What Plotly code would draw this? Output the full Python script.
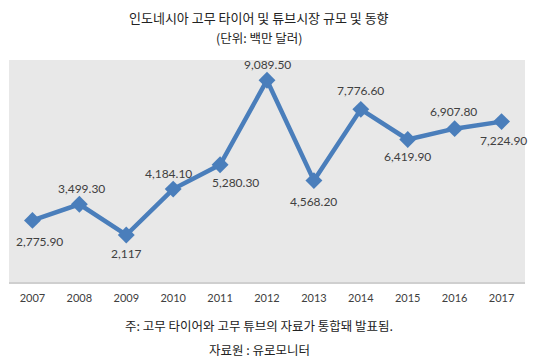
import plotly.graph_objects as go

years = ["2007", "2008", "2009", "2010", "2011", "2012", "2013", "2014", "2015", "2016", "2017"]
values = [2775.9, 3499.3, 2117, 4184.1, 5280.3, 9089.5, 4568.2, 7776.6, 6419.9, 6907.8, 7224.9]
labels = ["2,775.90", "3,499.30", "2,117", "4,184.10", "5,280.30", "9,089.50",
          "4,568.20", "7,776.60", "6,419.90", "6,907.80", "7,224.90"]

# label offsets in pixels (style only)
label_dx = [7, 2, 0, -5, 15, 0, 0, 0, 0, -1, 2]
label_dy = [-21, 16, -18, 16, -18, 16, -21, 19, -17, 17, -19]

title = "인도네시아 고무 타이어 및 튜브시장 규모 및 동향"
subtitle = "(단위: 백만 달러)"
note = "주: 고무 타이어와 고무 튜브의 자료가 통합돼 발표됨."
source = "자료원 : 유로모니터"

kfont = "Noto Sans CJK KR"
lfont = "Lato, Open Sans, sans-serif"
blue = "#4A7EBB"

# page body has an 8px margin: build the figure 8px smaller and offset
W, H = 530, 356
ml, mr, mt, mb = 1, 13, 52, 82
pw, ph = W - ml - mr, H - mt - mb


def px_to_paper(x_page, y_page):
    x = (x_page - 8 - ml) / pw
    y = (H - mb - (y_page - 8)) / ph
    return x, y


fig = go.Figure()
fig.add_trace(go.Scatter(
    x=years, y=values, mode="lines+markers",
    line=dict(color=blue, width=4.5),
    marker=dict(symbol="diamond", size=13, color=blue),
    cliponaxis=False, hoverinfo="skip",
))

annotations = []
for i, (v, t, dx, dy) in enumerate(zip(values, labels, label_dx, label_dy)):
    annotations.append(dict(
        x=i, y=v, xref="x", yref="y", text=t, showarrow=False,
        xshift=dx, yshift=dy, xanchor="center", yanchor="middle",
        font=dict(family=lfont, size=12, color="#404040"),
    ))

for txt, yy, size in [(title, 17.5, 13), (subtitle, 38, 12.5), (note, 325, 12.5), (source, 349, 12.5)]:
    px, py = px_to_paper(259, yy)
    annotations.append(dict(
        text=txt, x=px, y=py, xref="paper", yref="paper", showarrow=False,
        xanchor="center", yanchor="middle",
        font=dict(family=kfont, size=size, color="#222222"),
    ))

fig.update_layout(
    width=W, height=H,
    margin=dict(l=ml, r=mr, t=mt, b=mb, autoexpand=False),
    paper_bgcolor="white", plot_bgcolor="#e8e8e8",
    showlegend=False,
    xaxis=dict(type="category", showgrid=False, zeroline=False, showline=True,
               linecolor="#cfcfcf", linewidth=2, ticks="", ticklabelstandoff=5,
               tickfont=dict(family=lfont, size=11, color="#404040"),
               range=[-0.5, 10.5]),
    yaxis=dict(range=[0, 10000], showgrid=False, zeroline=False, showticklabels=False,
               ticks=""),
    annotations=annotations,
)

fig.write_html("out.html")
